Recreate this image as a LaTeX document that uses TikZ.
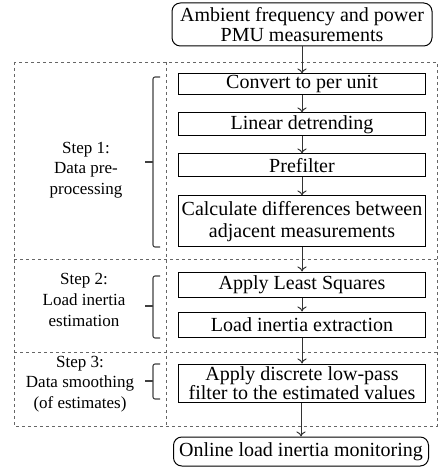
\documentclass[tikz,border=0pt]{standalone}
\usepackage{fontspec}
\setmainfont{Liberation Serif}
\usepackage{tikz}
\usetikzlibrary{shapes.geometric, arrows.meta, positioning, calc}

\begin{document}
\begin{tikzpicture}[x=0.6pt, y=-0.6pt,
			process/.style={rectangle, draw=black, line width=0.6pt, fill=white,
					minimum width=148.2pt, inner xsep=0pt, inner ysep=0.3pt,
					align=center, font=\fontsize{12}{13.2}\selectfont},
			terminal/.style={process, rounded corners=5pt},
			steplabel/.style={align=center, inner sep=0pt, font=\fontsize{10.2}{12.4}\selectfont},
			panel/.style={draw=black!60, line width=0.4pt, dash pattern=on 2pt off 1.6pt},
			bracket/.style={draw=black!75, line width=0.65pt, rounded corners=1.2pt},
			line/.style={draw=black!80, line width=0.6pt, -{To[length=3pt, width=5.5pt]}}]

		\useasboundingbox (0,0) rectangle (439,468);

		% Step panels
		\draw[panel] (14,62) rectangle (437,426);
		\draw[panel] (166,62) -- (166,426);
		\draw[panel] (14,259) -- (437,259);
		\draw[panel] (14,352) -- (437,352);

		% Define nodes
		\node [terminal, minimum width=156pt, minimum height=25.8pt, font=\fontsize{12}{12}\selectfont] (input) at (302,24.5) {Ambient frequency and power\\PMU measurements};
		\node [process, minimum height=12.6pt] (perunit) at (302,84.5) {Convert to per unit};
		\node [process, minimum height=13.8pt] (detrend) at (302,124.5) {Linear detrending};
		\node [process, minimum height=13.8pt] (prefilter) at (302,165.5) {Prefilter};
		\node [process, minimum height=30.6pt] (diff) at (302,221.5) {Calculate differences between\\adjacent measurements};
		\node [process, minimum height=15pt] (lsq) at (302,284.5) {Apply Least Squares};
		\node [process, minimum height=15pt] (extract) at (302,324.5) {Load inertia extraction};
		\node [process, minimum height=22.8pt, font=\fontsize{12}{11.4}\selectfont] (lowpass) at (302,383) {Apply discrete low-pass\\filter to the estimated values};
		\node [terminal, minimum width=153pt, minimum height=17.4pt] (monitor) at (301,451.5) {Online load inertia monitoring};

		% Step labels
		\node [steplabel] (step1) at (86,170) {Step 1:\\Data pre-\\processing};
		\node [steplabel] (step2) at (84,300) {Step 2:\\Load inertia\\estimation};
		\node [steplabel] (step3) at (80,384) {Step 3:\\Data smoothing\\(of estimates)};

		% Draw connections
		\path [line] (input.south -| perunit.north) -- (perunit.north);
		\path [line] (perunit) -- (detrend);
		\path [line] (detrend) -- (prefilter);
		\path [line] (prefilter) -- (diff);
		\path [line] (diff) -- (lsq);
		\path [line] (lsq) -- (extract);
		\path [line] (extract) -- (lowpass);
		\path [line] (lowpass.south -| monitor.north) -- (monitor.north);

		% Brackets
		\foreach \ya/\yb/\ym in {77/247/162, 276/338/306, 364/399/381}
			{
				\draw[bracket] (160,\ya) -- (153,\ya) -- (153,\yb) -- (160,\yb);
				\draw[bracket] (153,\ym) -- (145,\ym);
			}

	\end{tikzpicture}
\end{document}
